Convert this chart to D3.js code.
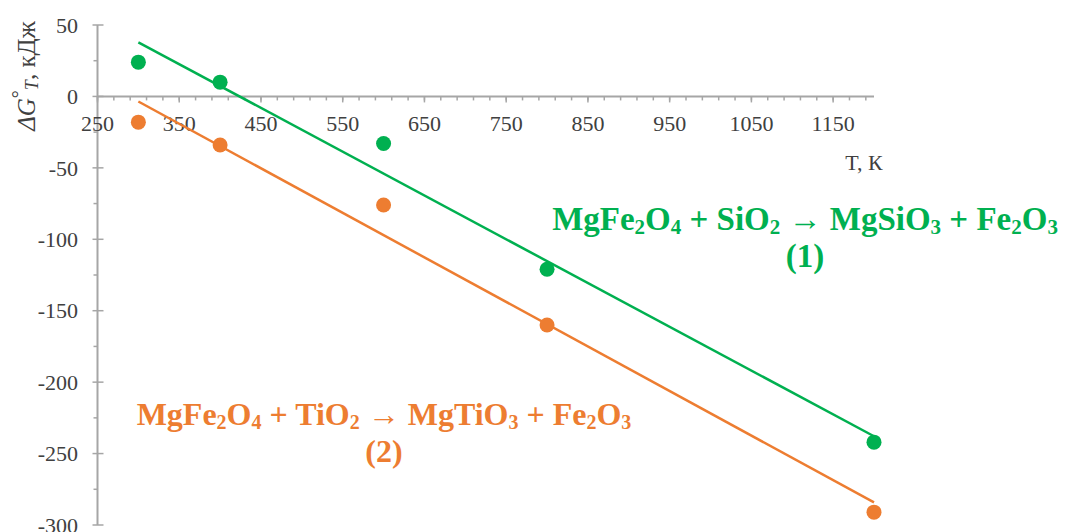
<!DOCTYPE html>
<html>
<head>
<meta charset="utf-8">
<script src="https://cdn.jsdelivr.net/npm/d3@7"></script>
<style>
  body { margin: 0; background: #fff; }
  text { font-family: "Liberation Serif", "Times New Roman", serif; }
</style>
</head>
<body>
<div id="chart"></div>
<script>
const width = 1081;
const height = 532;

// data
const temps = [300, 400, 600, 800, 1200];
const dgSi = [24, 10, -33, -121, -242];    // reaction (1)
const dgTi = [-18, -34, -76, -160, -291];  // reaction (2)
const xTicks = [250, 350, 450, 550, 650, 750, 850, 950, 1050, 1150];
const yTicks = [50, 0, -50, -100, -150, -200, -250, -300];
const eq1 = "MgFe2O4 + SiO2 → MgSiO3 + Fe2O3";
const eq2 = "MgFe2O4 + TiO2 → MgTiO3 + Fe2O3";

const green = "#00b050";
const orange = "#ed7d31";
const axisColor = "#a6a6a6";
const labelColor = "#404040";

const svg = d3.select("#chart").append("svg")
    .attr("width", width)
    .attr("height", height);

svg.append("rect").attr("width", width).attr("height", height).attr("fill", "#fff");

const xScale = d3.scaleLinear().domain([250, 1200]).range([97.5, 874]);
const yScale = d3.scaleLinear().domain([-300, 50]).range([525, 25]);

// y axis
const yAxisG = svg.append("g").attr("transform", `translate(${xScale(250)},0)`);
yAxisG.append("line")
    .attr("y1", yScale(50)).attr("y2", yScale(-300))
    .attr("stroke", axisColor).attr("stroke-width", 2);
yAxisG.selectAll(".ymajor").data(yTicks).enter().append("line")
    .attr("x1", -5).attr("x2", 6)
    .attr("y1", d => yScale(d)).attr("y2", d => yScale(d))
    .attr("stroke", axisColor).attr("stroke-width", 1.5);
yAxisG.selectAll(".yminor").data(d3.range(25, -300, -50)).enter().append("line")
    .attr("x1", -4).attr("x2", 0)
    .attr("y1", d => yScale(d)).attr("y2", d => yScale(d))
    .attr("stroke", axisColor).attr("stroke-width", 1.5);
yAxisG.selectAll(".ylabel").data(yTicks).enter().append("text")
    .attr("x", -19.5)
    .attr("y", d => yScale(d))
    .attr("dy", "0.35em")
    .attr("text-anchor", "end")
    .attr("fill", labelColor)
    .style("font-size", "22px")
    .text(d => d);

// x axis at y = 0
const xAxisG = svg.append("g").attr("transform", `translate(0,${yScale(0)})`);
xAxisG.append("line")
    .attr("x1", xScale(250)).attr("x2", xScale(1200))
    .attr("stroke", axisColor).attr("stroke-width", 2);
xAxisG.selectAll(".xminor").data(d3.range(250, 1201, 20)).enter().append("line")
    .attr("x1", d => xScale(d)).attr("x2", d => xScale(d))
    .attr("y1", 0).attr("y2", 4)
    .attr("stroke", axisColor).attr("stroke-width", 1.5);
xAxisG.selectAll(".xmajor").data(xTicks).enter().append("line")
    .attr("x1", d => xScale(d)).attr("x2", d => xScale(d))
    .attr("y1", 0).attr("y2", 6)
    .attr("stroke", axisColor).attr("stroke-width", 1.5);
xAxisG.selectAll(".xlabel").data(xTicks).enter().append("text")
    .attr("x", d => xScale(d))
    .attr("y", 27)
    .attr("dy", "0.35em")
    .attr("text-anchor", "middle")
    .attr("fill", labelColor)
    .style("font-size", "22px")
    .text(d => d);

svg.append("text")
    .attr("x", 864).attr("y", 170)
    .attr("text-anchor", "middle")
    .attr("fill", labelColor)
    .style("font-size", "22px")
    .text("T, К");

// y axis title
const yTitle = svg.append("text")
    .attr("transform", "translate(35,76) rotate(-90)")
    .attr("text-anchor", "middle")
    .attr("fill", labelColor)
    .style("font-size", "25px");
yTitle.append("tspan").style("font-style", "italic").text("ΔG");
yTitle.append("tspan").attr("dy", -9).style("font-size", "20px").text("°");
yTitle.append("tspan").attr("dy", 12).style("font-size", "18px").style("font-style", "italic").text("T");
yTitle.append("tspan").attr("dy", -3).text(", кДж");

// trend lines (least squares through each series)
function fit(xs, ys) {
    const mx = d3.mean(xs), my = d3.mean(ys);
    const sxy = d3.sum(xs, (x, i) => (x - mx) * (ys[i] - my));
    const sxx = d3.sum(xs, x => (x - mx) * (x - mx));
    const b = sxy / sxx;
    return x => my + b * (x - mx);
}

const series = [
    { values: dgSi, color: green },
    { values: dgTi, color: orange }
];

series.forEach(s => {
    const f = fit(temps, s.values);
    const ends = [d3.min(temps), d3.max(temps)];
    svg.append("line")
        .attr("x1", xScale(ends[0])).attr("y1", yScale(f(ends[0])))
        .attr("x2", xScale(ends[1])).attr("y2", yScale(f(ends[1])))
        .attr("stroke", s.color).attr("stroke-width", 2.5);
    svg.append("g").selectAll("circle")
        .data(temps.map((t, i) => [t, s.values[i]]))
        .enter().append("circle")
        .attr("cx", d => xScale(d[0]))
        .attr("cy", d => yScale(d[1]))
        .attr("r", 7.5)
        .attr("fill", s.color);
});

// equation labels with subscripted digits
function equation(x, y, str, num, color, size) {
    const t = svg.append("text")
        .attr("x", x).attr("y", y)
        .attr("text-anchor", "middle")
        .attr("fill", color)
        .style("font-size", size + "px")
        .style("font-weight", "bold");
    let shifted = false;
    str.split(/(\d)/).filter(p => p.length).forEach(p => {
        if (/\d/.test(p)) {
            t.append("tspan").attr("dy", 4).style("font-size", Math.round(size * 0.64) + "px").text(p);
            shifted = true;
        } else {
            t.append("tspan").attr("dy", shifted ? -4 : 0).text(p);
            shifted = false;
        }
    });
    svg.append("text")
        .attr("x", x).attr("y", y + 37)
        .attr("text-anchor", "middle")
        .attr("fill", color)
        .style("font-size", size + "px")
        .style("font-weight", "bold")
        .text(num);
}

equation(805, 230, eq1, "(1)", green, 33);
equation(384, 425, eq2, "(2)", orange, 32);
</script>
</body>
</html>
